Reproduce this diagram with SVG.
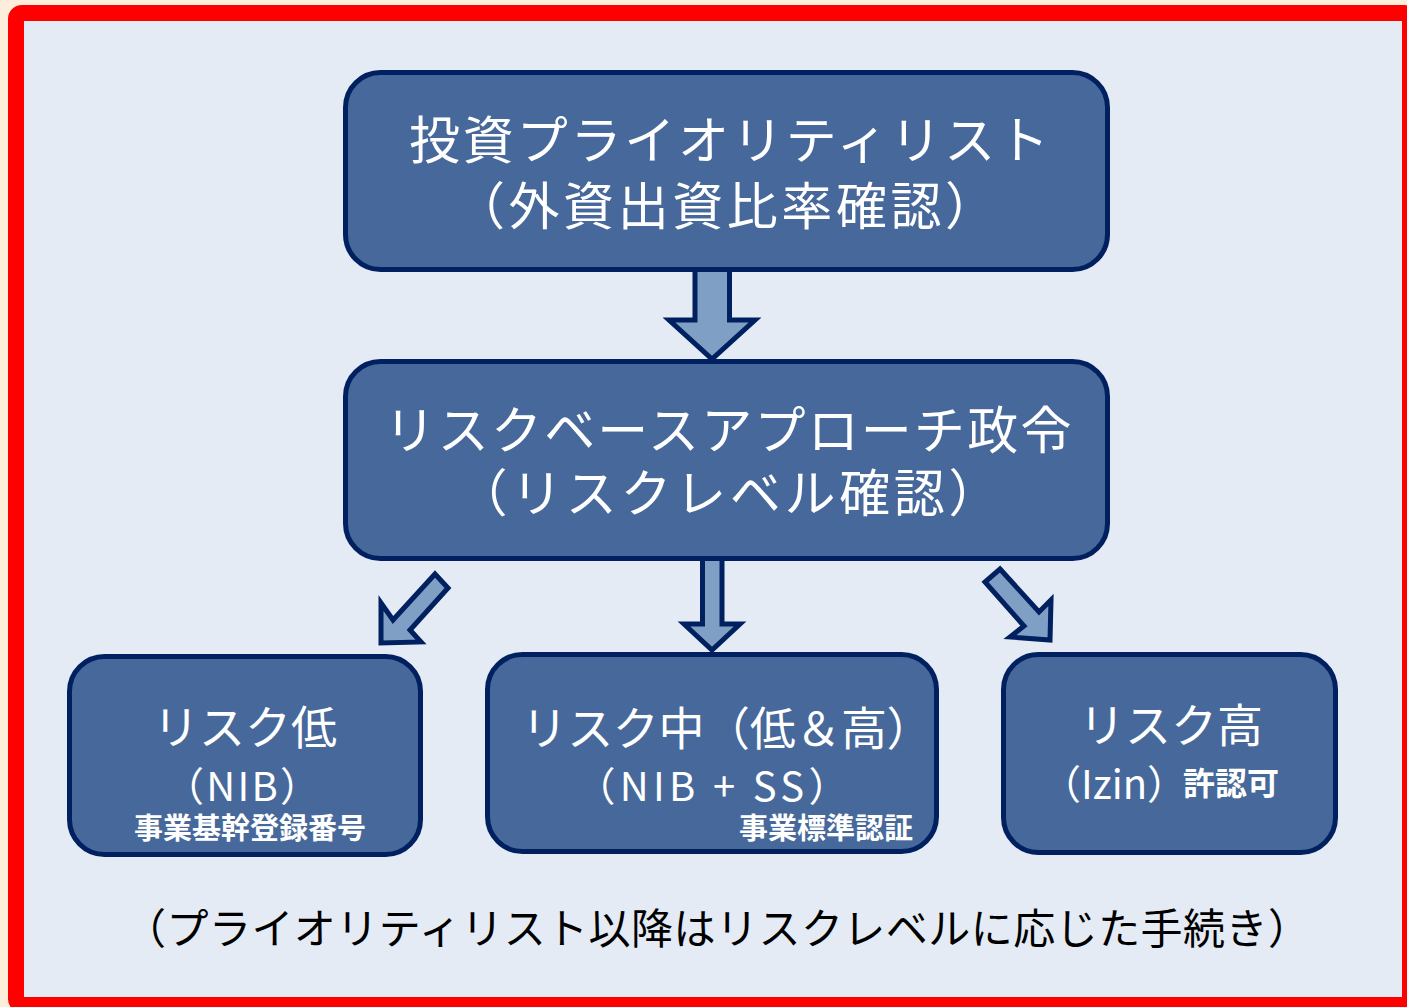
<svg xmlns="http://www.w3.org/2000/svg" width="1407" height="1007" viewBox="0 0 1407 1007">
<defs>
<style>
.node{fill:#46689A;stroke:#002060;stroke-width:5}
.arrow{fill:#7F9FC4;stroke:#002060;stroke-width:5;stroke-linejoin:miter}
.t{font-family:"Noto Sans CJK JP","Noto Sans",sans-serif;fill:#FFFFFF;text-anchor:middle}
.big{font-size:51px}
.mid{font-size:46px}
.lat{font-size:40px}
.sm{font-size:29px;font-weight:bold}
.cap{font-family:"Noto Sans CJK JP","Noto Sans",sans-serif;font-size:42px;fill:#000000;text-anchor:middle}
</style>
</defs>
<rect x="0" y="0" width="1407" height="1007" fill="#FDEEDC"/>
<rect x="16" y="13" width="1394" height="992" rx="6" fill="#E4EBF4" stroke="#FF0000" stroke-width="16"/>
<g id="connectors">
<polygon class="arrow" points="695,268 729.5,268 729.5,320 755,320 712,359 669,320 695,320"/>
<polygon class="arrow" points="702.5,558 722,558 722,624 740,624 712,650 684,624 702.5,624"/>
<polygon class="arrow" points="435,574 448,588 410,630 421,642 381,643 381,603 393,620"/>
<polygon class="arrow" points="1000,569 1039,612 1051,600 1050,640 1010,637 1024,626 985,582"/>
</g>
<g id="node-priority">
<rect class="node" x="345.5" y="72.5" width="762" height="197" rx="35"/>
<text class="t big" x="729" y="159" textLength="640" lengthAdjust="spacing">投資プライオリティリスト</text>
<text class="t big" x="725" y="225" textLength="542" lengthAdjust="spacing">（外資出資比率確認）</text>
</g>
<g id="node-rba">
<rect class="node" x="345.5" y="361.5" width="762" height="197" rx="35"/>
<text class="t big" x="728" y="449" textLength="687" lengthAdjust="spacing">リスクベースアプローチ政令</text>
<text class="t big" x="728" y="512" textLength="543" lengthAdjust="spacing">（リスクレベル確認）</text>
</g>
<g id="node-low">
<rect class="node" x="69.5" y="656.5" width="351" height="198" rx="35"/>
<text class="t mid" x="245" y="744">リスク低</text>
<text class="t lat" x="242" y="801" textLength="156" lengthAdjust="spacing">（NIB）</text>
<text class="t sm" x="250" y="839">事業基幹登録番号</text>
</g>
<g id="node-medium">
<rect class="node" x="487.5" y="654.5" width="449" height="197" rx="35"/>
<text class="t mid" x="727" y="745" textLength="411" lengthAdjust="spacing">リスク中（低＆高）</text>
<text class="t lat" x="712" y="801" textLength="273" lengthAdjust="spacing">（NIB + SS）</text>
<text class="t sm" x="913" y="839" style="text-anchor:end">事業標準認証</text>
</g>
<g id="node-high">
<rect class="node" x="1003.5" y="654.5" width="332" height="198" rx="35"/>
<text class="t mid" x="1171" y="742">リスク高</text>
<text class="t lat" x="1041" y="799" style="text-anchor:start">（Izin）</text>
<text class="t" x="1183" y="795" style="text-anchor:start;font-size:32px;font-weight:bold">許認可</text>
</g>
<text class="cap" x="717" y="944" textLength="1186" lengthAdjust="spacing">（プライオリティリスト以降はリスクレベルに応じた手続き）</text>
</svg>
